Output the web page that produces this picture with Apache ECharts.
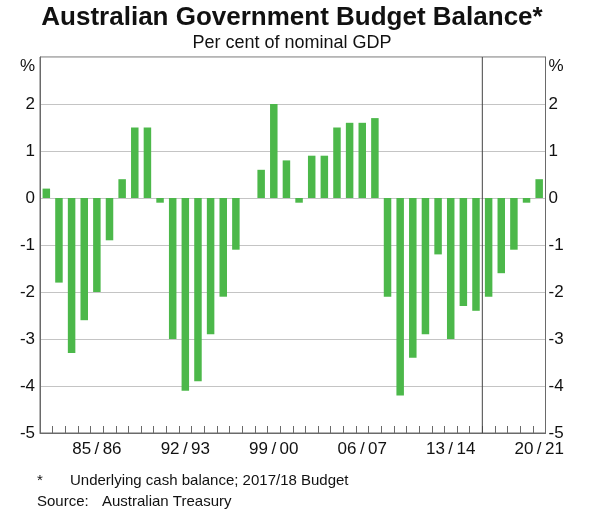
<!DOCTYPE html>
<html>
<head>
<meta charset="utf-8">
<script src="https://cdn.jsdelivr.net/npm/echarts@6/dist/echarts.min.js"></script>
<style>
html,body{margin:0;padding:0;background:#fff;}
#chart{width:600px;height:513px;}
</style>
</head>
<body>
<div id="chart"></div>
<script>
var categories = ['81/82','82/83','83/84','84/85','85/86','86/87','87/88','88/89','89/90','90/91',
  '91/92','92/93','93/94','94/95','95/96','96/97','97/98','98/99','99/00','00/01',
  '01/02','02/03','03/04','04/05','05/06','06/07','07/08','08/09','09/10','10/11',
  '11/12','12/13','13/14','14/15','15/16','16/17','17/18','18/19','19/20','20/21'];
var balance = [0.2,-1.8,-3.3,-2.6,-2.0,-0.9,0.4,1.5,1.5,-0.1,
  -3.0,-4.1,-3.9,-2.9,-2.1,-1.1,0.0,0.6,2.0,0.8,
  -0.1,0.9,0.9,1.5,1.6,1.6,1.7,-2.1,-4.2,-3.4,
  -2.9,-1.2,-3.0,-2.3,-2.4,-2.1,-1.6,-1.1,-0.1,0.4];
var shownLabels = ['85/86','92/93','99/00','06/07','13/14','20/21'];
var forecastBoundary = [[35,-5],[35,3]]; // boundary between 15/16 actual and 16/17 forecast
var yTicks = {min:-5, max:3, interval:1};

var FONT = 'Liberation Sans, Arial, sans-serif';
var chart = echarts.init(document.getElementById('chart'));

function yFmt(v){ return v === yTicks.max ? '{p|%}' : String(v); }
function xFmt(v){ return v.replace('/', '\u2009/\u2009'); }

chart.setOption({
  animation:false,
  backgroundColor:'#fff',
  grid:{left:40, right:54.5, top:57, bottom:80, show:true, borderColor:'#6a6a6a', borderWidth:1},
  graphic:[
    {type:'text', style:{text:'Australian Government Budget Balance*', x:292, y:18, align:'center', verticalAlign:'middle', font:'bold 26px ' + FONT, fill:'#111'}},
    {type:'text', style:{text:'Per cent of nominal GDP', x:292, y:43, align:'center', verticalAlign:'middle', font:'18px ' + FONT, fill:'#111'}},
    {type:'text', style:{text:'*', x:37, y:481, verticalAlign:'middle', font:'15px ' + FONT, fill:'#111'}},
    {type:'text', style:{text:'Underlying cash balance; 2017/18 Budget', x:70, y:481, verticalAlign:'middle', font:'15px ' + FONT, fill:'#111'}},
    {type:'text', style:{text:'Source:', x:37, y:502, verticalAlign:'middle', font:'15px ' + FONT, fill:'#111'}},
    {type:'text', style:{text:'Australian Treasury', x:102, y:502, verticalAlign:'middle', font:'15px ' + FONT, fill:'#111'}}
  ],
  xAxis:[
    {type:'category', data:categories, boundaryGap:true,
     axisLine:{onZero:false, lineStyle:{color:'#6a6a6a', width:1}},
     axisTick:{show:true, inside:true, length:7, interval:0, lineStyle:{color:'#6a6a6a'}},
     axisLabel:{interval:function(i,v){return shownLabels.indexOf(v) >= 0;}, formatter:xFmt,
       margin:8, fontSize:17, color:'#111', fontFamily:FONT},
     splitLine:{show:false}},
    {type:'value', min:0, max:categories.length, show:false}
  ],
  yAxis:[
    {type:'value', position:'left', min:yTicks.min, max:yTicks.max, interval:yTicks.interval,
     axisLine:{show:true, lineStyle:{color:'#6a6a6a'}}, axisTick:{show:false},
     splitLine:{show:true, lineStyle:{color:'#c4c4c4', width:1}},
     axisLabel:{formatter:yFmt, margin:5, fontSize:17, color:'#111', fontFamily:FONT,
       rich:{p:{fontSize:17, color:'#111', fontFamily:FONT, padding:[18,0,0,0]}}}},
    {type:'value', position:'right', min:yTicks.min, max:yTicks.max, interval:yTicks.interval,
     axisLine:{show:true, lineStyle:{color:'#6a6a6a'}}, axisTick:{show:false},
     splitLine:{show:false},
     axisLabel:{formatter:yFmt, margin:3, fontSize:17, color:'#111', fontFamily:FONT,
       rich:{p:{fontSize:17, color:'#111', fontFamily:FONT, padding:[18,0,0,0]}}}}
  ],
  series:[
    {type:'bar', data:balance, xAxisIndex:0, yAxisIndex:0, barWidth:7.5,
     itemStyle:{color:'#4cb84a'}, silent:true},
    {type:'line', data:forecastBoundary, xAxisIndex:1, yAxisIndex:0, symbol:'none',
     lineStyle:{color:'#444', width:1}, silent:true, z:5}
  ]
});
</script>
</body>
</html>
